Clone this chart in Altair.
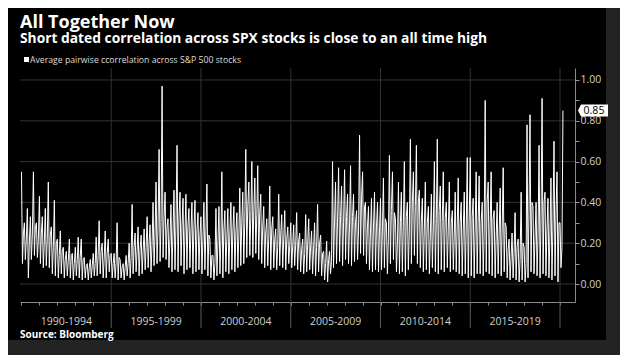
import altair as alt
import pandas as pd

# ---------------- data ----------------
# per two-month block: the spike high, the low, and the top of the dense white band
series_start = "1990-01-01"
hi_vals = [
    .55, .30, .37, .33, .55, .30, .43, .33, .37, .50,
    .28, .41, .22, .26, .18, .16, .22, .15, .18, .23,
    .22, .13, .10, .12, .15, .23, .31, .20, .26, .22,
    .15, .15, .30, .12, .10, .14, .20, .39, .25, .28,
    .24, .27, .33, .29, .40, .50, .66, .97, .45, .32,
    .39, .46, .68, .45, .42, .44, .37, .40, .41, .35,
    .33, .40, .49, .22, .14, .37, .38, .55, .36, .37,
    .40, .38, .35, .47, .45, .66, .50, .60, .52, .58,
    .44, .38, .32, .48, .33, .27, .44, .34, .36, .28,
    .30, .29, .35, .25, .22, .34, .32, .26, .30, .39,
    .24, .16, .21, .16, .60, .50, .57, .48, .56, .44,
    .58, .44, .36, .73, .55, .40, .38, .42, .45, .40,
    .42, .52, .30, .63, .55, .32, .50, .45, .60, .40,
    .71, .55, .68, .46, .42, .50, .38, .44, .60, .71,
    .48, .55, .40, .50, .36, .45, .52, .40, .45, .62,
    .62, .42, .55, .53, .40, .90, .50, .55, .36, .40,
    .47, .57, .28, .22, .25, .35, .22, .45, .18, .78,
    .83, .38, .40, .68, .91, .45, .42, .52, .70, .55,
    .30, .85,
]
lo_vals = [
    .10, .12, .03, .12, .14, .13, .10, .08, .09, .08,
    .05, .04, .03, .05, .03, .04, .03, .02, .04, .03,
    .02, .03, .02, .03, .04, .04, .05, .03, .03, .06,
    .03, .03, .02, .03, .02, .04, .03, .05, .06, .04,
    .05, .07, .08, .06, .09, .10, .11, .13, .12, .08,
    .06, .07, .06, .09, .05, .07, .08, .05, .06, .07,
    .05, .07, .04, .03, .02, .04, .05, .03, .06, .05,
    .07, .06, .08, .09, .10, .13, .14, .13, .15, .12,
    .10, .08, .09, .07, .08, .07, .09, .08, .07, .10,
    .08, .09, .07, .06, .05, .06, .07, .05, .04, .06,
    .04, .02, .01, .05, .08, .10, .11, .09, .12, .10,
    .09, .11, .12, .15, .14, .10, .07, .06, .07, .06,
    .07, .08, .05, .10, .12, .06, .05, .06, .04, .07,
    .10, .14, .10, .08, .06, .07, .05, .08, .06, .05,
    .07, .06, .08, .06, .07, .06, .05, .04, .05, .03,
    .04, .03, .05, .05, .04, .06, .05, .04, .03, .05,
    .04, .06, .03, .02, .03, .02, .01, .02, .01, .03,
    .06, .05, .04, .03, .05, .04, .03, .02, .04, .01,
    .08,
]
mid_vals = [
    .25, .22, .20, .24, .28, .22, .25, .20, .22, .24,
    .18, .20, .14, .16, .12, .11, .14, .10, .12, .13,
    .12, .09, .08, .09, .10, .14, .16, .12, .15, .14,
    .10, .10, .13, .08, .08, .10, .13, .18, .16, .17,
    .16, .18, .20, .19, .24, .27, .30, .32, .28, .22,
    .25, .28, .33, .28, .26, .28, .25, .27, .26, .24,
    .22, .25, .24, .14, .10, .20, .22, .26, .22, .24,
    .26, .25, .24, .30, .30, .38, .33, .36, .34, .35,
    .28, .25, .22, .27, .22, .18, .24, .22, .22, .19,
    .19, .19, .21, .17, .15, .20, .19, .17, .18, .20,
    .15, .10, .12, .11, .30, .30, .33, .30, .33, .28,
    .33, .30, .26, .42, .38, .28, .25, .27, .28, .26,
    .28, .32, .22, .36, .35, .20, .30, .28, .33, .26,
    .40, .38, .40, .30, .26, .30, .24, .28, .32, .36,
    .30, .32, .26, .30, .24, .28, .30, .25, .27, .32,
    .33, .26, .30, .30, .25, .40, .30, .32, .22, .24,
    .27, .30, .17, .13, .15, .18, .12, .20, .10, .35,
    .40, .22, .24, .32, .40, .26, .24, .28, .34, .30,
    .18,
]
period_labels = ["1990-1994", "1995-1999", "2000-2004", "2005-2009", "2010-2014", "2015-2019"]
period_mids = ["1992-07-02", "1997-07-02", "2002-07-02", "2007-07-02", "2012-07-02", "2017-07-02"]
boundary_dates = ["1995-01-01", "2000-01-01", "2005-01-01", "2010-01-01", "2015-01-01", "2020-01-01"]
y_grid = [0.0, 0.2, 0.4, 0.6, 0.8, 1.0]
y_ticks = [0.0, 0.1, 0.2, 0.3, 0.4, 0.5, 0.6, 0.7, 0.8, 0.9, 1.0]
last_value = 0.85

title_text = "All Together Now"
subtitle_text = "Short dated correlation across SPX stocks is close to an all time high"
legend_text = "Average pairwise ccorrelation across S&P 500 stocks"
source_text = "Source: Bloomberg"

# ---------------- tables ----------------
t0 = pd.Timestamp(series_start)
dates, vals = [], []
for k, h in enumerate(hi_vals):
    base = t0 + pd.DateOffset(months=2 * k)
    dates.append(base)
    vals.append(h)
    if k < len(lo_vals):
        dates += [base + pd.Timedelta(days=20), base + pd.Timedelta(days=40)]
        vals += [lo_vals[k], mid_vals[k]]
series = pd.DataFrame({"date": dates, "corr": vals})
periods = pd.DataFrame({"mid": pd.to_datetime(period_mids), "label": period_labels})
bounds = pd.DataFrame({"d": pd.to_datetime(boundary_dates)})
grid = pd.DataFrame({"v": y_grid})
tag = pd.DataFrame({"v": [last_value], "label": [f"{last_value:.2f}"]})
one = pd.DataFrame({"a": [0]})

W, H = 555, 234
FONT = "Open Sans"

xscale = alt.Scale(domain=[alt.DateTime(year=1989, month=12, date=2),
                           alt.DateTime(year=2020, month=11, date=1)])
yscale = alt.Scale(domain=[-0.0882, 1.0588], nice=False, zero=False)

x_axis = alt.Axis(
    values=[alt.DateTime(year=y, month=1, date=1) for y in range(1990, 2021)],
    labels=False, ticks=True, tickSize=3, tickColor="#8a8a8a",
    domainColor="#8a8a8a", grid=False, title=None,
)
y_axis = alt.Axis(
    orient="right", values=y_ticks, tickSize=4, tickColor="#9a9a9a",
    domainColor="#8a8a8a", grid=False, title=None, labelPadding=1,
    labelExpr="round(datum.value*10) % 2 == 0 ? format(datum.value, '.2f') : ''",
    labelColor="#d0d0d0", labelFont=FONT, labelFontSize=10.5,
)

def X(field):
    return alt.X(field, scale=xscale, axis=x_axis)

def Y(field):
    return alt.Y(field, scale=yscale, axis=y_axis)

strip_right = alt.Chart(one).mark_rect(color="#232323").encode(
    x=alt.value(W + 31), x2=alt.value(W + 45), y=alt.value(-60), y2=alt.value(H + 53))
strip_bottom = alt.Chart(one).mark_rect(color="#232323").encode(
    x=alt.value(-12), x2=alt.value(W + 45), y=alt.value(H + 38), y2=alt.value(H + 53))

hgrid = alt.Chart(grid).mark_rule(color="#333333", strokeWidth=1).encode(
    y=Y("v:Q"), x=alt.value(0), x2=alt.value(W))
vgrid = alt.Chart(bounds).mark_rule(color="#333333", strokeWidth=1).encode(
    x=X("d:T"), y=alt.value(0), y2=alt.value(H))
seps = alt.Chart(bounds).mark_rule(color="#5a5a5a", strokeWidth=1).encode(
    x=X("d:T"), y=alt.value(H), y2=alt.value(H + 26))

line = alt.Chart(series).mark_line(color="white", strokeWidth=1.0).encode(
    x=X("date:T"), y=Y("corr:Q"))

tag_shape = alt.Chart(tag).mark_point(
    shape="M -1 0 L -0.8 -0.4 L 1 -0.4 L 1 0.4 L -0.8 0.4 Z",
    filled=True, color="white", opacity=1, size=900, strokeWidth=0,
).encode(x=alt.value(W + 18), y=Y("v:Q"))
tag_text = alt.Chart(tag).mark_text(
    font=FONT, fontSize=10.5, color="black", align="center", baseline="middle", dx=1,
).encode(x=alt.value(W + 18), y=Y("v:Q"), text="label:N")

period_text = alt.Chart(periods).mark_text(
    font=FONT, fontSize=10.5, color="#d0d0d0", align="center", baseline="middle",
).encode(x=X("mid:T"), y=alt.value(H + 20), text="label:N")

def label(txt, x, y, size, weight="normal", color="white"):
    return alt.Chart(one).mark_text(
        text=txt, font=FONT, fontSize=size, fontWeight=weight, color=color,
        align="left", baseline="alphabetic",
    ).encode(x=alt.value(x), y=alt.value(y))

title = label(title_text, 0, -40.5, 18, "bold")
subtitle = label(subtitle_text, 0, -25, 13.8, "bold")
legend_sq = alt.Chart(one).mark_square(color="white", opacity=1, size=25).encode(
    x=alt.value(6.5), y=alt.value(-8.5))
legend_lbl = label(legend_text, 10, -5.5, 8.7, "normal", "#dddddd")
source = label(source_text, 0, 269.5, 10, "bold")

chart = alt.layer(
    strip_right, strip_bottom, hgrid, vgrid, seps, line, tag_shape, tag_text,
    period_text, title, subtitle, legend_sq, legend_lbl, source,
).properties(
    width=W, height=H, background="#000000",
    padding={"left": 12, "top": 60, "right": 45, "bottom": 53},
    autosize=alt.AutoSizeParams(type="none"),
).configure_view(stroke=None)

chart.save("out.html", embed_options={"renderer": "svg", "actions": False})
